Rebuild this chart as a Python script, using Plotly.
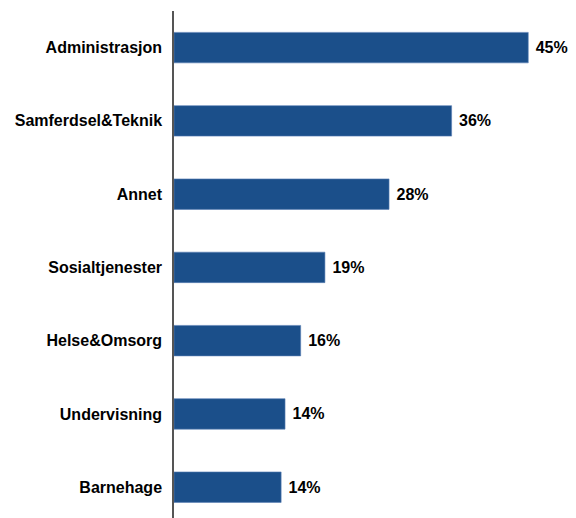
import plotly.graph_objects as go

categories = ["Administrasjon", "Samferdsel&Teknik", "Annet", "Sosialtjenester",
              "Helse&Omsorg", "Undervisning", "Barnehage"]
values = [45.3, 35.5, 27.5, 19.3, 16.2, 14.2, 13.7]
labels = ["45%", "36%", "28%", "19%", "16%", "14%", "14%"]

FONT = "Liberation Sans, Arial, sans-serif"

fig = go.Figure(go.Bar(
    x=values,
    y=categories,
    orientation="h",
    marker=dict(color="#1B4F8A", line=dict(color="#5A7FB5", width=0.6)),
    width=0.416,
    text=[" " + t for t in labels],
    textposition="outside",
    textfont=dict(family=FONT, size=16, color="#000000", weight="bold"),
    cliponaxis=False,
    hoverinfo="skip",
))

fig.update_layout(
    width=576,
    height=518,
    margin=dict(l=166, r=19, t=3, b=0, autoexpand=False),
    paper_bgcolor="white",
    plot_bgcolor="white",
    showlegend=False,
    font=dict(family=FONT, size=16, color="#000000"),
)

fig.update_xaxes(range=[0, 50], visible=False, showgrid=False, zeroline=False,
                 automargin=False)
fig.update_yaxes(
    type="category",
    categoryorder="array",
    categoryarray=categories,
    range=[6.53, -0.5],
    automargin=False,
    showline=True,
    linecolor="#555555",
    linewidth=1.5,
    showgrid=False,
    zeroline=False,
    ticks="",
    ticklabelstandoff=7,
    tickfont=dict(family=FONT, size=16, color="#000000", weight="bold"),
)

fig.write_html("out.html")
